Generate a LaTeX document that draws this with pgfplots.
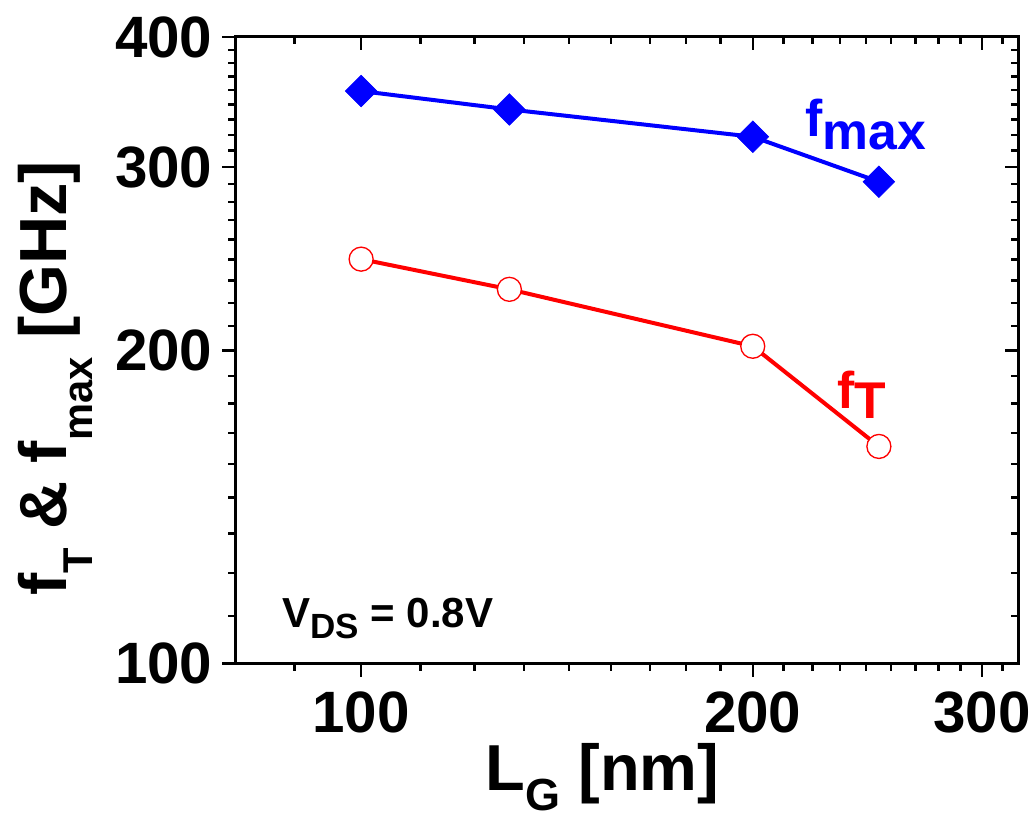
\documentclass[border=0pt]{standalone}
\usepackage{fontspec}
\setmainfont{Liberation Sans}
\usepackage{pgfplots}
\pgfplotsset{compat=1.18}
\definecolor{fblue}{RGB}{0,0,255}
\definecolor{fred}{RGB}{255,0,0}
\newcommand{\lowsub}[3]{\raisebox{-#1}{\fontsize{#2}{#2}\selectfont #3}}
\begin{document}
\begin{tikzpicture}
\path[use as bounding box] (-70.5pt,-45.6pt) rectangle (239.7pt,199.1pt);
\begin{axis}[
  at={(0,0)}, anchor=south west,
  scale only axis, width=235pt, height=188pt,
  xmode=log, ymode=log,
  xmin=80, xmax=320, ymin=100, ymax=400,
  xtick={100,200,300}, ytick={100,200,300,400},
  minor xtick={88.89,111.11,122.22,133.33,144.44,155.56,166.67,177.78,188.89,211.11,222.22,233.33,244.44,255.56,266.67,277.78,288.89,311.11},
  minor ytick={111.11,122.22,133.33,144.44,155.56,166.67,177.78,188.89,211.11,222.22,233.33,244.44,255.56,266.67,277.78,288.89,311.11,322.22,333.33,344.44,355.56,366.67,377.78,388.89},
  major tick length=3.9pt, minor tick length=2.1pt,
  axis line style={line width=0.9pt, black},
  every tick/.style={black, line width=0.7pt},
  tick align=inside, xtick pos=top, ytick pos=right,
  xticklabels={}, yticklabels={},
]
\end{axis}
\begin{axis}[
  at={(0,0)}, anchor=south west,
  scale only axis, width=235pt, height=188pt,
  xmode=log, ymode=log,
  xmin=80, xmax=320, ymin=100, ymax=400,
  xtick={100,200,300}, ytick={100,200,300,400},
  minor xtick={88.89,111.11,122.22,133.33,144.44,155.56,166.67,177.78,188.89,211.11,222.22,233.33,244.44,255.56,266.67,277.78,288.89,311.11},
  minor ytick={111.11,122.22,133.33,144.44,155.56,166.67,177.78,188.89,211.11,222.22,233.33,244.44,255.56,266.67,277.78,288.89,311.11,322.22,333.33,344.44,355.56,366.67,377.78,388.89},
  major tick length=3.9pt, minor tick length=2.1pt,
  axis line style={line width=0.9pt, black},
  every tick/.style={black, line width=0.7pt},
  clip=false,
  tick align=outside, xtick pos=bottom, ytick pos=left,
  xticklabels={100,200,300}, yticklabels={100,200,300,400},
  /pgf/number format/assume math mode=true,
  yticklabel style={font=\bfseries\fontsize{17.5}{17.5}\selectfont, anchor=east, inner sep=0pt, xshift=-2.7pt},
  xticklabel style={font=\bfseries\fontsize{17.5}{17.5}\selectfont, anchor=north, inner sep=0pt, yshift=-4.2pt},
]
\addplot[fblue, line width=1.2pt, mark=square*, mark size=3.35pt,
  mark options={rotate=45, fill=fblue, draw=fblue, line width=0.2pt}]
  coordinates {(100,354.9) (130,340.8) (200,320.8) (250,290.4)};
\addplot[fred, line width=1.2pt, mark=*, mark size=3.6pt,
  mark options={fill=white, draw=fred, line width=0.4pt}]
  coordinates {(100,244.7) (130,228.9) (200,201.8) (250,161.7)};
\node[anchor=base west, text=fblue, font=\bfseries\fontsize{15.5}{15.5}\selectfont, inner sep=0pt]
  at (axis cs:219.4,320.8) {f\raisebox{-0.25em}{max}};
\node[anchor=base west, text=fred, font=\bfseries\fontsize{15.5}{15.5}\selectfont, inner sep=0pt]
  at (axis cs:232.1,175.9) {f\raisebox{-0.19em}{T}};
\node[anchor=base west, font=\bfseries\fontsize{12.6}{12.6}\selectfont, inner sep=0pt]
  at (axis cs:86.9,108.3) {V\lowsub{0.25em}{10.5}{DS} = 0.8V};
\node[rotate=90, anchor=base, font=\bfseries\fontsize{20}{20}\selectfont, inner sep=0pt]
  at (rel axis cs:-0.2146,0.455) {f\lowsub{0.38em}{12.5}{T} \& f\lowsub{0.38em}{12.5}{max} [GHz]};
\node[anchor=base, font=\bfseries\fontsize{19.5}{19.5}\selectfont, inner sep=0pt]
  at (rel axis cs:0.469,-0.2029) {L\lowsub{0.3em}{13.5}{G} [nm]};
\end{axis}
\end{tikzpicture}
\end{document}
